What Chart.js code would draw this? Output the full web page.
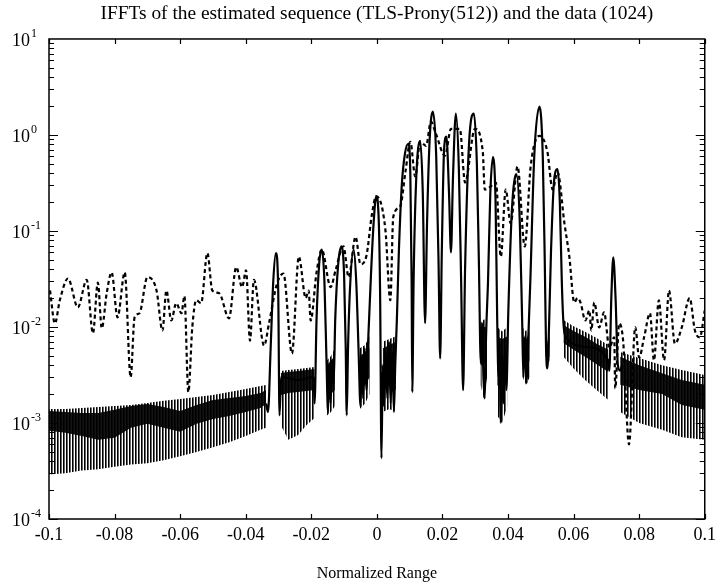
<!DOCTYPE html>
<html>
<head>
<meta charset="utf-8">
<title>IFFTs of the estimated sequence</title>
<script src="https://cdn.jsdelivr.net/npm/chart.js@4.4.0/dist/chart.umd.min.js"></script>
<style>
  html, body { margin: 0; padding: 0; background: #fff; }
  canvas { display: block; }
</style>
</head>
<body>
<canvas id="chart" width="721" height="588"></canvas>
<script>

// estimated sequence (TLS-Prony), the peak part
var solidX = [-0.0338, -0.0332, -0.0324, -0.0316, -0.0308, -0.0301, -0.0297, -0.0292, -0.024, -0.0193,
  -0.0190, -0.0184, -0.0176, -0.0168, -0.0160, -0.0154, -0.0149, -0.0145, -0.0141, -0.0137,
  -0.0132, -0.0127, -0.0118, -0.0108, -0.0100, -0.0095, -0.0092, -0.0088, -0.0082, -0.0071,
  -0.0063, -0.0056, -0.0050, -0.0046, -0.0042, -0.0037, -0.0032, -0.0026, -0.0018, -0.0010,
  -0.0002, 0.0006, 0.0010, 0.0014, 0.0018, 0.0022, 0.0027, 0.0032, 0.0037, 0.0042,
  0.0047, 0.0052, 0.0056, 0.0061, 0.0067, 0.0076, 0.0086, 0.0096, 0.0102, 0.0106,
  0.0108, 0.0112, 0.0120, 0.0132, 0.0140, 0.0147, 0.0153, 0.0161, 0.0171, 0.0181,
  0.0188, 0.0193, 0.0198, 0.0205, 0.0212, 0.0220, 0.0226, 0.0232, 0.0241, 0.0250,
  0.0257, 0.0263, 0.0269, 0.0281, 0.0296, 0.0305, 0.0311, 0.0317, 0.0321, 0.0325,
  0.0329, 0.0333, 0.0339, 0.0346, 0.0354, 0.0362, 0.0367, 0.0371, 0.0374, 0.0378,
  0.0382, 0.0386, 0.0390, 0.0395, 0.0401, 0.0412, 0.0426, 0.0436, 0.0443, 0.0447,
  0.0452, 0.0457, 0.0462, 0.0468, 0.0480, 0.0496, 0.0506, 0.0512, 0.0516, 0.0520,
  0.0525, 0.0531, 0.0541, 0.0551, 0.0558, 0.0564, 0.0569, 0.0575, 0.064, 0.0705,
  0.0709, 0.0715, 0.0721, 0.0728, 0.0735, 0.0742, 0.0748];
var solidY = [0.0016, 0.0013, 0.006, 0.03, 0.059, 0.025, 0.0012, 0.003, 0.0028, 0.003,
  0.0016, 0.012, 0.045, 0.064, 0.03, 0.005, 0.0013, 0.004, 0.0016, 0.0045,
  0.0025, 0.012, 0.045, 0.069, 0.035, 0.006, 0.0012, 0.006, 0.025, 0.064,
  0.03, 0.006, 0.0015, 0.005, 0.0018, 0.006, 0.0022, 0.008, 0.035, 0.12,
  0.23, 0.12, 0.02, 0.00043, 0.004, 0.0015, 0.0055, 0.0018, 0.007, 0.0016,
  0.0055, 0.0013, 0.004, 0.012, 0.06, 0.3, 0.65, 0.81, 0.4, 0.03,
  0.0021, 0.03, 0.35, 0.87, 0.25, 0.011, 0.12, 0.9, 1.75, 0.6,
  0.05, 0.0047, 0.06, 0.7, 0.96, 0.25, 0.06, 0.35, 1.67, 0.45,
  0.03, 0.0022, 0.04, 0.8, 1.67, 0.5, 0.05, 0.0042, 0.011, 0.003,
  0.0018, 0.008, 0.03, 0.25, 0.59, 0.2, 0.012, 0.003, 0.007, 0.001,
  0.005, 0.0016, 0.006, 0.0022, 0.015, 0.17, 0.39, 0.12, 0.012, 0.003,
  0.008, 0.0026, 0.008, 0.03, 0.6, 1.98, 0.6, 0.05, 0.006, 0.0037,
  0.01, 0.06, 0.35, 0.44, 0.2, 0.03, 0.011, 0.008, 0.0062, 0.0045,
  0.0035, 0.02, 0.053, 0.02, 0.004, 0.0035, 0.004];

// estimated sequence, the fast ripple: outer envelope and dense core (null = gap)
var bandX = [-0.1, -0.095, -0.09, -0.085, -0.08, -0.075, -0.07, -0.065, -0.06, -0.055, -0.05, -0.045, -0.04, -0.0355, -0.0338, null,
  -0.0293, -0.027, -0.024, -0.0215, -0.019, null,
  0.0569, 0.060, 0.0635, 0.067, 0.0706, null,
  0.0742, 0.080, 0.087, 0.093, 0.1, null,
  -0.0152, -0.0140, -0.0128, null,
  -0.0096, -0.0088, null,
  -0.0052, -0.0036, -0.0022, null,
  0.0018, 0.0038, 0.0058, null,
  0.0316, 0.0326, 0.0336, null,
  0.0367, 0.0382, 0.0398, null,
  0.0444, 0.0455, 0.0466, null,
  0.0514, 0.0520, 0.0527];
var bandHi = [0.0014, 0.0014, 0.00143, 0.00147, 0.0015, 0.00154, 0.00162, 0.0017, 0.00178, 0.00187, 0.00196, 0.0021, 0.00226, 0.00243, 0.00249, null,
  0.00348, 0.00356, 0.00365, 0.00374, 0.00383, null,
  0.0118, 0.0102, 0.0089, 0.0077, 0.0065, null,
  0.0055, 0.00475, 0.004, 0.00356, 0.00316, null,
  0.0045, 0.005, 0.006, null,
  0.005, 0.005, null,
  0.006, 0.0065, 0.008, null,
  0.007, 0.0075, 0.008, null,
  0.011, 0.012, 0.012, null,
  0.01, 0.009, 0.01, null,
  0.01, 0.009, 0.011, null,
  0.008, 0.007, 0.009];
var bandLo = [0.00029, 0.0003, 0.00032, 0.00033, 0.00035, 0.00037, 0.00038, 0.00041, 0.00045, 0.0005, 0.00056, 0.00063, 0.00073, 0.00085, 0.00089, null,
  0.00095, 0.00067, 0.00075, 0.00095, 0.00113, null,
  0.0049, 0.0037, 0.0028, 0.00221, 0.00174, null,
  0.0013, 0.001, 0.00085, 0.00071, 0.00067, null,
  0.0012, 0.0013, 0.0015, null,
  0.0013, 0.0015, null,
  0.0014, 0.0016, 0.002, null,
  0.0013, 0.0014, 0.0013, null,
  0.0025, 0.0018, 0.003, null,
  0.0012, 0.001, 0.0015, null,
  0.003, 0.0025, 0.003, null,
  0.0045, 0.0037, 0.0045];
var coreHi = [0.00133, 0.0013, 0.00127, 0.00127, 0.00137, 0.0015, 0.00158, 0.00147, 0.00133, 0.00154, 0.00174, 0.00182, 0.00191, 0.00205, 0.00221, null,
  0.00332, 0.0034, 0.00348, 0.00356, 0.00365, null,
  0.0105, 0.0091, 0.0079, 0.0067, 0.0058, null,
  0.0049, 0.004, 0.0033, 0.0028, 0.0025, null,
  0.004, 0.0045, 0.005, null,
  0.0045, 0.0045, null,
  0.005, 0.0055, 0.006, null,
  0.006, 0.0065, 0.007, null,
  0.009, 0.01, 0.01, null,
  0.008, 0.0075, 0.008, null,
  0.008, 0.0075, 0.009, null,
  0.007, 0.0065, 0.008];
var coreLo = [0.00083, 0.00079, 0.00073, 0.00067, 0.0007, 0.00089, 0.00098, 0.00089, 0.00081, 0.00098, 0.0011, 0.00118, 0.0013, 0.00143, 0.00158, null,
  0.00196, 0.00205, 0.0021, 0.00215, 0.00221, null,
  0.0068, 0.0058, 0.0049, 0.0041, 0.0034, null,
  0.0025, 0.0022, 0.002, 0.00154, 0.00137, null,
  0.0018, 0.002, 0.0022, null,
  0.002, 0.002, null,
  0.0022, 0.0025, 0.003, null,
  0.0022, 0.0025, 0.0022, null,
  0.004, 0.004, 0.005, null,
  0.0025, 0.002, 0.003, null,
  0.004, 0.0035, 0.0045, null,
  0.005, 0.0045, 0.005];

// the data (1024), dashed
var dataX = [-0.0997, -0.0982, -0.0967, -0.0942, -0.0912, -0.0885, -0.0866, -0.0851, -0.0839, -0.0824,
  -0.0809, -0.0791, -0.0769, -0.0751, -0.0739, -0.0724, -0.0700, -0.0672, -0.0654, -0.0642,
  -0.0627, -0.0612, -0.0596, -0.0587, -0.0575, -0.0563, -0.0551, -0.0536, -0.0517, -0.0502,
  -0.0481, -0.0451, -0.0429, -0.0411, -0.0399, -0.0387, -0.0375, -0.0344, -0.0329, -0.0305,
  -0.0285, -0.0259, -0.0238, -0.0217, -0.0208, -0.0202, -0.0184, -0.0168, -0.0141, -0.0126,
  -0.0102, -0.0086, -0.0065, -0.0050, -0.0032, -0.0015, -0.0002, 0.0026, 0.0041, 0.0050,
  0.0071, 0.0087, 0.0102, 0.0117, 0.0132, 0.0150, 0.0165, 0.0178, 0.0208, 0.0226,
  0.0253, 0.0269, 0.0299, 0.0323, 0.0329, 0.0347, 0.0363, 0.0378, 0.0393, 0.0408,
  0.0429, 0.0451, 0.0469, 0.0496, 0.0520, 0.0536, 0.0551, 0.0572, 0.0587, 0.0602,
  0.0612, 0.0621, 0.0636, 0.0648, 0.0654, 0.0663, 0.0678, 0.0693, 0.0709, 0.0724,
  0.0727, 0.0739, 0.0751, 0.0769, 0.0788, 0.0800, 0.0815, 0.0833, 0.0845, 0.0860,
  0.0876, 0.0891, 0.0909, 0.0930, 0.0954, 0.0970, 0.0985, 0.1000];
var dataY = [0.024, 0.0109, 0.019, 0.032, 0.016, 0.031, 0.0086, 0.029, 0.0097, 0.0225,
  0.037, 0.0126, 0.037, 0.003, 0.0126, 0.0139, 0.033, 0.024, 0.0092, 0.024,
  0.0117, 0.0177, 0.0139, 0.021, 0.0021, 0.0099, 0.019, 0.0177, 0.059, 0.024,
  0.0225, 0.0123, 0.042, 0.026, 0.039, 0.0072, 0.031, 0.0064, 0.0109, 0.028,
  0.036, 0.0053, 0.054, 0.02, 0.024, 0.0117, 0.037, 0.064, 0.026, 0.039,
  0.069, 0.033, 0.087, 0.045, 0.055, 0.15, 0.23, 0.103, 0.019, 0.14,
  0.18, 0.41, 0.85, 0.37, 0.85, 0.77, 1.38, 1.08, 0.61, 1.16,
  1.16, 0.32, 1.16, 0.67, 0.27, 0.29, 0.32, 0.054, 0.27, 0.12,
  0.47, 0.069, 0.47, 0.98, 0.67, 0.27, 0.41, 0.12, 0.054, 0.018,
  0.02, 0.018, 0.0117, 0.0149, 0.0092, 0.018, 0.0099, 0.0142, 0.0061, 0.0078,
  0.0023, 0.0109, 0.0072, 0.0006, 0.0099, 0.0048, 0.0078, 0.0139, 0.0045, 0.019,
  0.0045, 0.024, 0.0067, 0.0099, 0.02, 0.0092, 0.0078, 0.0149];

var xTicks = [-0.1, -0.08, -0.06, -0.04, -0.02, 0, 0.02, 0.04, 0.06, 0.08, 0.1];
var decades = [-4, -3, -2, -1, 0, 1];

const FONT = "'Liberation Serif', 'Times New Roman', serif";
const ctx = document.getElementById('chart').getContext('2d');

// thin vertical hatching for the ripple band
function hatchPattern() {
  const c = document.createElement('canvas');
  c.width = 3; c.height = 6;
  const g = c.getContext('2d');
  g.fillStyle = '#000';
  g.fillRect(0, 0, 1.6, 6);
  return ctx.createPattern(c, 'repeat');
}

function pts(xs, ys) {
  return xs.map((x, i) => ({x: x, y: ys[i]}));
}

// split arrays with null separators into segments
function segments(xs, ys) {
  const out = [];
  let cur = [];
  xs.forEach((x, i) => {
    if (x === null) { out.push(cur); cur = []; }
    else cur.push({x: x, y: ys[i]});
  });
  out.push(cur);
  return out;
}

var datasets = [
  {
    label: 'data', data: pts(dataX, dataY),
    borderColor: '#000', borderWidth: 2.2, borderDash: [4, 3],
    pointRadius: 0, fill: false, cubicInterpolationMode: 'monotone'
  },
  {
    label: 'estimated', data: pts(solidX, solidY),
    borderColor: '#000', borderWidth: 2.2,
    pointRadius: 0, fill: false, cubicInterpolationMode: 'monotone'
  }
];

const hatch = hatchPattern();
const hiSeg = segments(bandX, bandHi), loSeg = segments(bandX, bandLo);
const chSeg = segments(bandX, coreHi), clSeg = segments(bandX, coreLo);
for (let s = 0; s < hiSeg.length; s++) {
  datasets.push({ data: chSeg[s], borderWidth: 0, borderColor: 'rgba(0,0,0,0)', pointRadius: 0, fill: '+1', backgroundColor: 'rgba(0,0,0,0.92)' });
  datasets.push({ data: clSeg[s], borderWidth: 0, borderColor: 'rgba(0,0,0,0)', pointRadius: 0, fill: false });
  datasets.push({ data: hiSeg[s], borderWidth: 0, borderColor: 'rgba(0,0,0,0)', pointRadius: 0, fill: '+1', backgroundColor: hatch });
  datasets.push({ data: loSeg[s], borderWidth: 0, borderColor: 'rgba(0,0,0,0)', pointRadius: 0, fill: false });
}

// box, inward ticks and the 10^n labels
const frame = {
  id: 'frame',
  afterDraw(chart) {
    const c = chart.ctx, a = chart.chartArea;
    const x = chart.scales.x, y = chart.scales.y;
    c.save();
    c.strokeStyle = '#000';
    c.lineWidth = 1.5;
    c.strokeRect(a.left, a.top, a.right - a.left, a.bottom - a.top);
    c.lineWidth = 1.2;
    c.beginPath();
    xTicks.forEach(t => {
      const px = Math.round(x.getPixelForValue(t)) + 0.5;
      c.moveTo(px, a.bottom); c.lineTo(px, a.bottom - 5);
      c.moveTo(px, a.top); c.lineTo(px, a.top + 5);
    });
    for (let k = -4; k < 1; k++) {
      for (let m = 1; m <= 9; m++) {
        const py = Math.round(y.getPixelForValue(m * Math.pow(10, k))) + 0.5;
        const len = m === 1 ? 9 : 5;
        c.moveTo(a.left, py); c.lineTo(a.left + len, py);
        c.moveTo(a.right, py); c.lineTo(a.right - len, py);
      }
    }
    c.stroke();

    c.fillStyle = '#000';
    c.textBaseline = 'middle';
    decades.forEach(k => {
      const py = y.getPixelForValue(Math.pow(10, k)) + 2;
      c.font = '18px ' + FONT;
      c.textAlign = 'left';
      c.fillText('10', 12, py);
      const w = c.measureText('10').width;
      c.font = '12px ' + FONT;
      c.fillText(String(k), 12 + w + 1, py - 7);
    });
    c.restore();
  }
};

new Chart(ctx, {
  type: 'line',
  data: { datasets: datasets },
  options: {
    responsive: false,
    animation: false,
    events: [],
    layout: { padding: { left: 0, right: 12, top: 0, bottom: 0 } },
    elements: { line: { tension: 0 } },
    plugins: {
      legend: { display: false },
      tooltip: { enabled: false },
      title: {
        display: true,
        fullSize: false,
        text: 'IFFTs of the estimated sequence (TLS-Prony(512)) and the data (1024)',
        color: '#000',
        font: { family: FONT, size: 19.4, weight: 'normal' },
        padding: { top: 2, bottom: 13.7 }
      }
    },
    scales: {
      x: {
        type: 'linear', min: -0.1, max: 0.1,
        grid: { display: false, drawTicks: false },
        border: { display: false },
        ticks: {
          stepSize: 0.02, padding: 5, color: '#000', maxRotation: 0,
          font: { family: FONT, size: 18 },
          callback: v => String(Math.round(v * 100) / 100)
        },
        title: {
          display: true, text: 'Normalized Range', color: '#000',
          font: { family: FONT, size: 16 },
          padding: { top: 0, bottom: 5 }
        },
        afterFit: s => { s.height = 69; }
      },
      y: {
        type: 'logarithmic', min: 1e-4, max: 10,
        grid: { display: false, drawTicks: false },
        border: { display: false },
        ticks: { display: false },
        afterFit: s => { s.width = 49; }
      }
    }
  },
  plugins: [frame]
});

</script>
</body>
</html>
